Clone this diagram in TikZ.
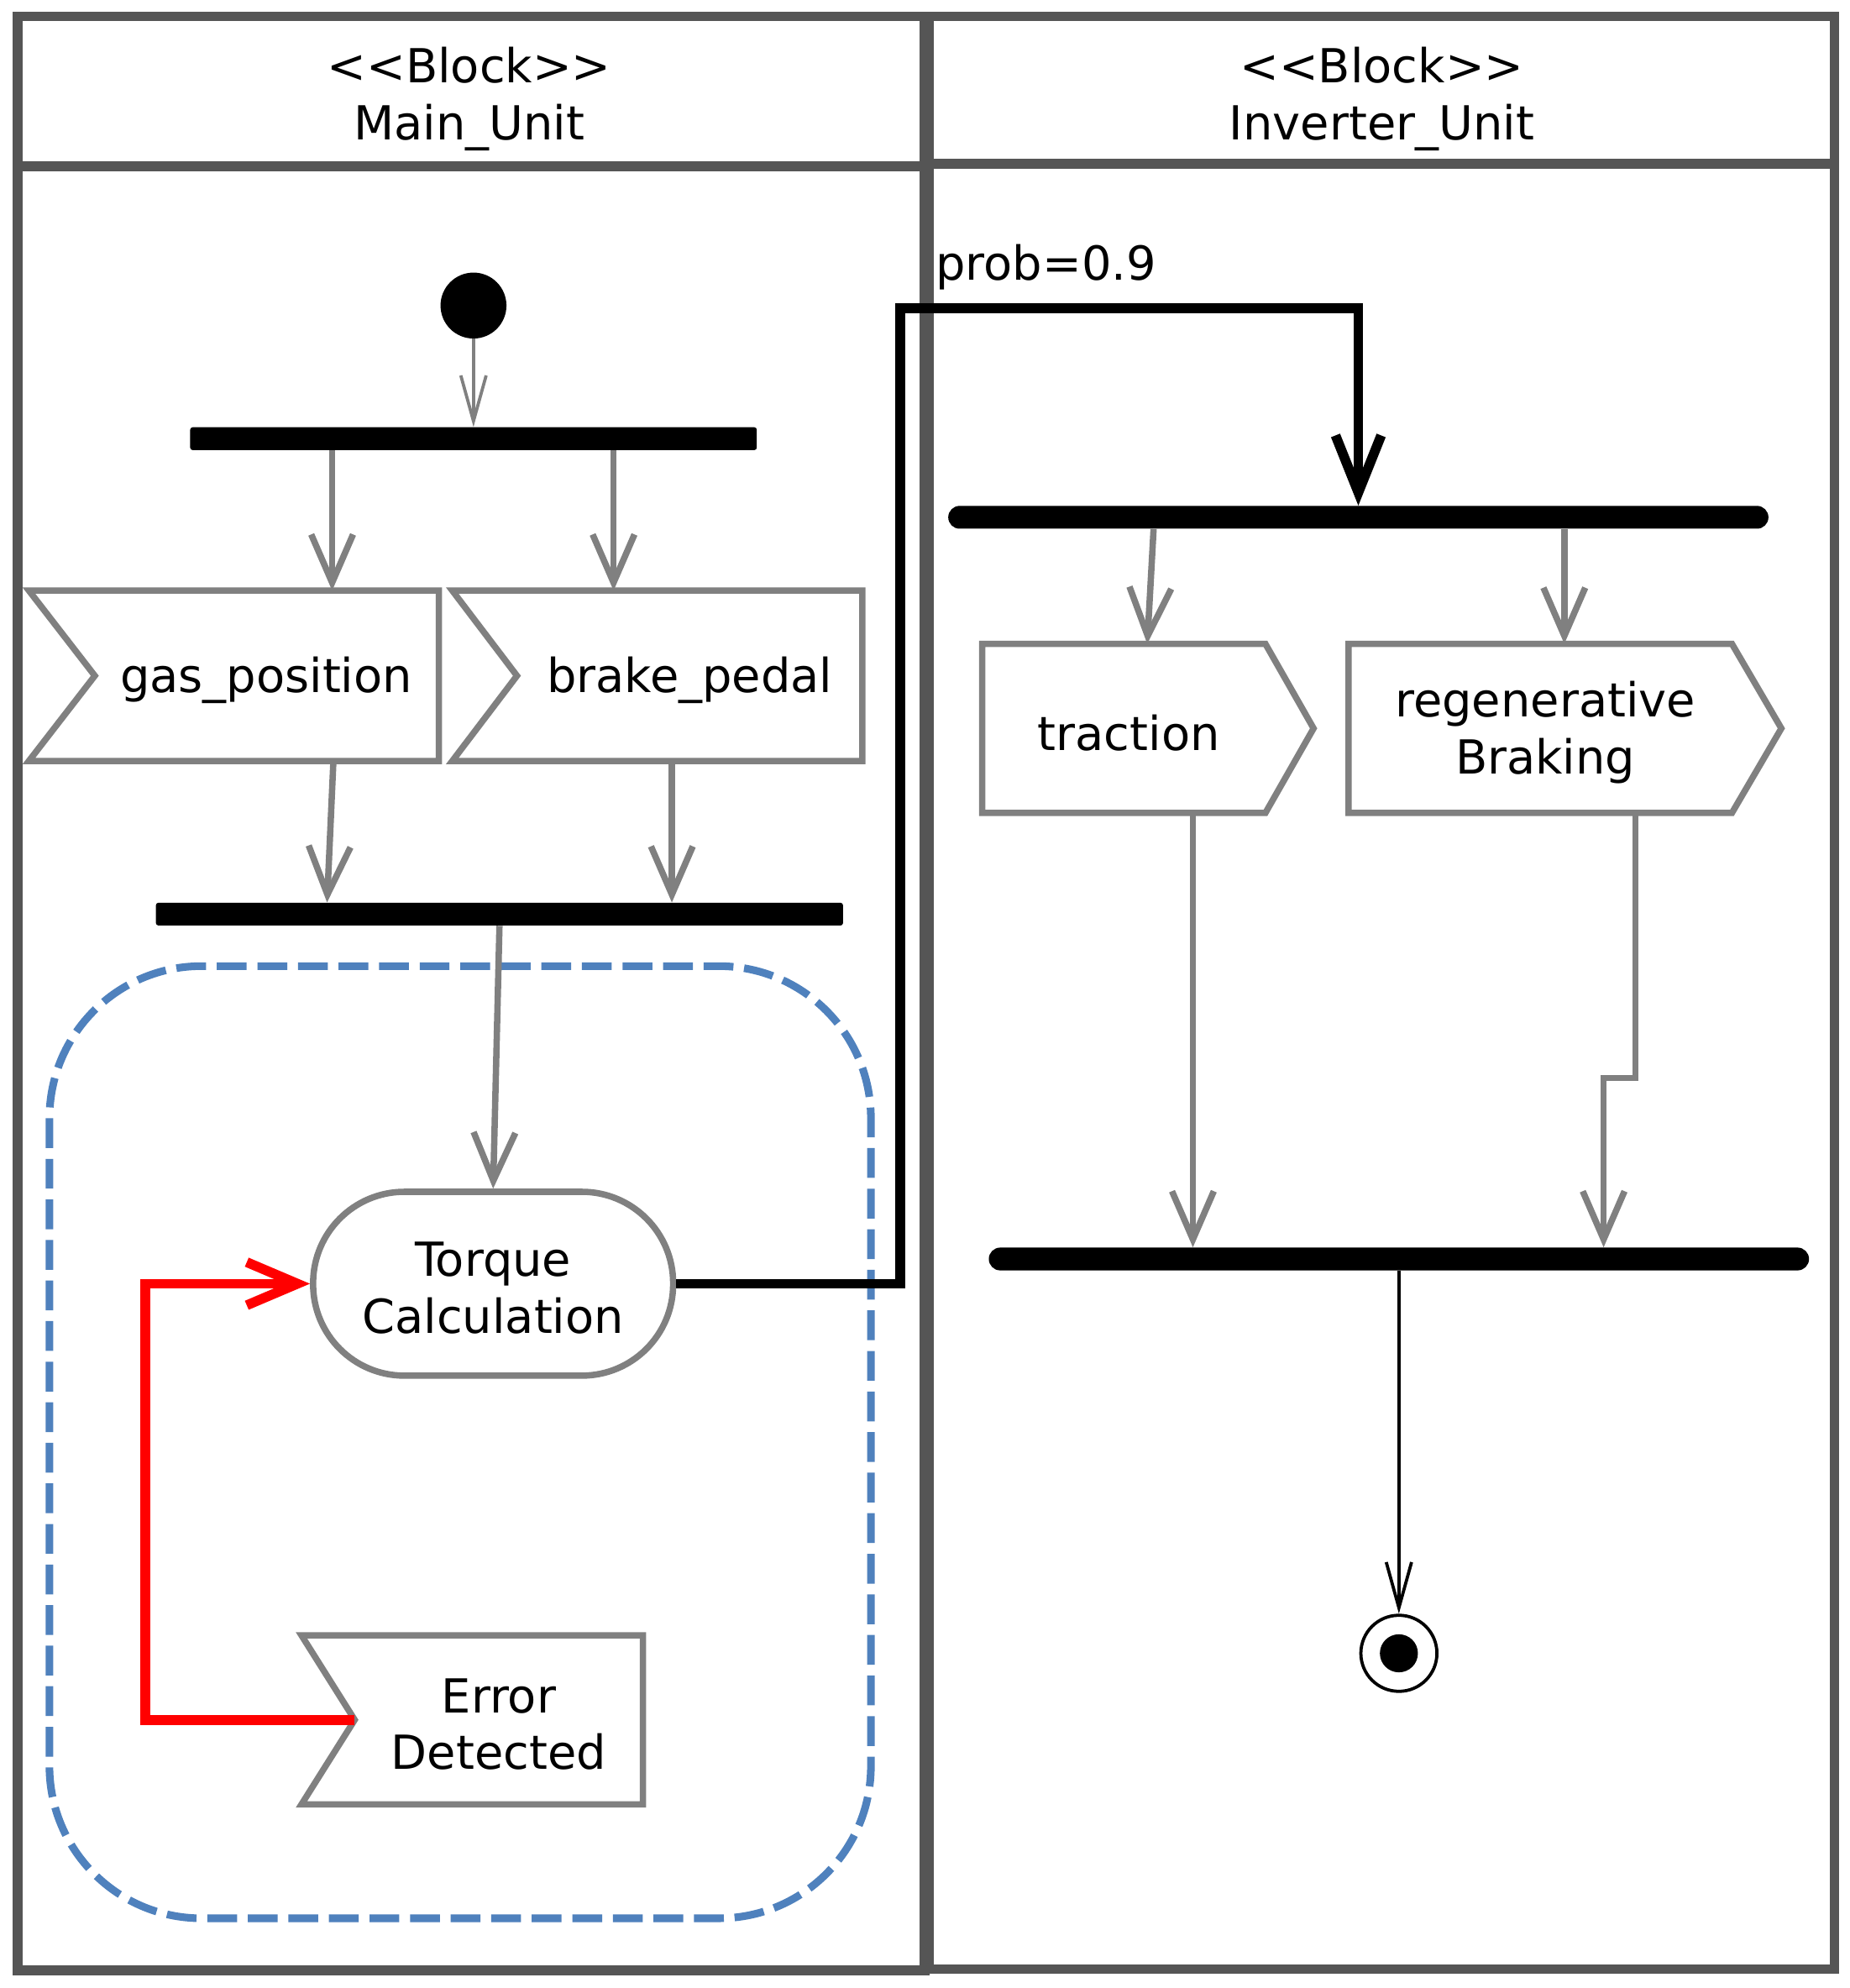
\documentclass[tikz,border=0pt]{standalone}
\usepackage{fontspec}
\setmainfont{DejaVu Sans}
\usetikzlibrary{arrows.meta,calc}
\definecolor{framegray}{HTML}{555555}
\definecolor{nodegray}{HTML}{808080}
\definecolor{dashblue}{HTML}{4F81BD}
\tikzset{
  lane/.style={draw=framegray, line width=7.7pt},
  txt/.style={font=\fontsize{37}{45}\selectfont, align=center, inner sep=0pt, yshift=-3.5pt},
  bar/.style={fill=black, inner sep=0pt, minimum height=18pt, rounded corners=2pt},
  rbar/.style={fill=black, inner sep=0pt, minimum height=18pt, rounded corners=9pt},
  sigbox/.style={draw=none, inner sep=0pt},
  sigline/.style={draw=nodegray, line width=5pt},
  flow/.style={draw=nodegray, line width=5pt, -{Straight Barb[length=38pt,width=33pt]}},
  thinflow/.style={draw=nodegray, line width=2.5pt, -{Straight Barb[length=36pt,width=20pt]}},
  redflow/.style={draw=red, line width=7.7pt, -{Straight Barb[length=40pt,width=34pt]}},
  blackflow/.style={draw=black, line width=7.7pt, -{Straight Barb[length=45pt,width=36pt]}},
  endflow/.style={draw=black, line width=2.5pt, -{Straight Barb[length=36pt,width=20pt]}},
  region/.style={draw=dashblue, line width=6pt, dash pattern=on 23.5pt off 8.5pt, rounded corners=120pt},
}
\begin{document}
\begin{tikzpicture}[x=1pt,y=-1pt]
\useasboundingbox (0,0) rectangle (1459,1568);
\fill[white] (0,0) rectangle (1459,1568);

% swimlanes
\draw[lane] (13.8,13) rectangle (729.5,1554);
\draw[lane] (13.8,131) -- (729.5,131);
\draw[lane] (733,13) rectangle (1447,1553);
\draw[lane] (733,129) -- (1447,129);
\node[txt] (mainhdr) at (370,74.5) {{<}{<}Block{>}{>}\\Main\_Unit};
\node[txt] (invhdr) at (1090,74.5) {{<}{<}Block{>}{>}\\Inverter\_Unit};

% interruptible region
\draw[region] (39,762) rectangle (687,1513);

% left lane nodes
\node[circle, fill=black, minimum size=52pt, inner sep=0pt] (init) at (373.5,241) {};
\node[bar, minimum width=447pt] (fork1) at (373.5,346) {};
\node[sigbox, minimum width=323pt, minimum height=134pt,
      label={[txt, xshift=25.5pt]center:gas\_position}] (gas) at (184.5,533) {};
\node[sigbox, minimum width=323pt, minimum height=134pt,
      label={[txt, xshift=25.5pt]center:brake\_pedal}] (brake) at (518.5,533) {};
\draw[sigline] (gas.north west) -- (gas.north east) -- (gas.south east) -- (gas.south west) -- ([xshift=52pt]gas.west) -- cycle;
\draw[sigline] (brake.north west) -- (brake.north east) -- (brake.south east) -- (brake.south west) -- ([xshift=51pt]brake.west) -- cycle;
\node[bar, minimum width=542pt] (fork2) at (394,721) {};
\node[draw=nodegray, line width=5pt, rounded corners=72pt, minimum width=284pt, minimum height=145pt,
      label={[txt]center:Torque\\Calculation}] (torque) at (389,1012.5) {};
\node[sigbox, minimum width=269pt, minimum height=133pt,
      label={[txt, xshift=21pt]center:Error\\Detected}] (err) at (372.5,1356.5) {};
\draw[sigline] (err.north west) -- (err.north east) -- (err.south east) -- (err.south west) -- ([xshift=42pt]err.west) -- cycle;

% right lane nodes
\node[txt, anchor=west] (prob) at (738,207) {prob=0.9};
\node[rbar, minimum width=647pt] (fork3) at (1071.5,408) {};
\node[sigbox, minimum width=223pt, minimum height=133pt,
      label={[txt, xshift=4pt]center:traction}] (traction) at (886.5,574.5) {};
\node[sigbox, minimum width=302pt, minimum height=133pt,
      label={[txt, xshift=4pt]center:regenerative\\Braking}] (regen) at (1215,574.5) {};
\draw[sigline] (traction.north west) -- (traction.north east) -- ([xshift=38pt]traction.east) -- (traction.south east) -- (traction.south west) -- cycle;
\draw[sigline] (regen.north west) -- (regen.north east) -- ([xshift=39pt]regen.east) -- (regen.south east) -- (regen.south west) -- cycle;
\node[rbar, minimum width=647pt] (fork4) at (1103.5,993) {};
\node[circle, draw=black, line width=2.5pt, minimum size=60pt, inner sep=0pt] (final) at (1103.5,1304) {};
\fill[black] (final.center) circle (15pt);

% connectors
\draw[thinflow] (init.south) -- (fork1.north);
\draw[flow] ([xshift=-111.5pt]fork1.south) -- ([xshift=77.5pt]gas.north);
\draw[flow] ([xshift=110.5pt]fork1.south) -- ([xshift=-34.5pt]brake.north);
\draw[flow] ([xshift=78.5pt]gas.south) -- ([xshift=-136pt]fork2.north);
\draw[flow] ([xshift=11.5pt]brake.south) -- ([xshift=136pt]fork2.north);
\draw[flow] (fork2.south) -- (torque.north);
\draw[redflow] ([xshift=42pt]err.west) -- ++(-165,0) |- (torque.west);
\coordinate (bend) at (710,243);
\draw[blackflow] (torque.east) -| (bend) -| (fork3.north);
\draw[flow] ([xshift=-161.5pt]fork3.south) -- ([xshift=18.5pt]traction.north);
\draw[flow] ([xshift=162.5pt]fork3.south) -- ([xshift=19pt]regen.north);
\draw[flow] ([xshift=54.5pt]traction.south) -- ([xshift=-162.5pt]fork4.north);
\draw[flow] ([xshift=75pt]regen.south) -- ++(0,209) -| ([xshift=161.5pt]fork4.north);
\draw[endflow] (fork4.south) -- (final.north);
\end{tikzpicture}
\end{document}
